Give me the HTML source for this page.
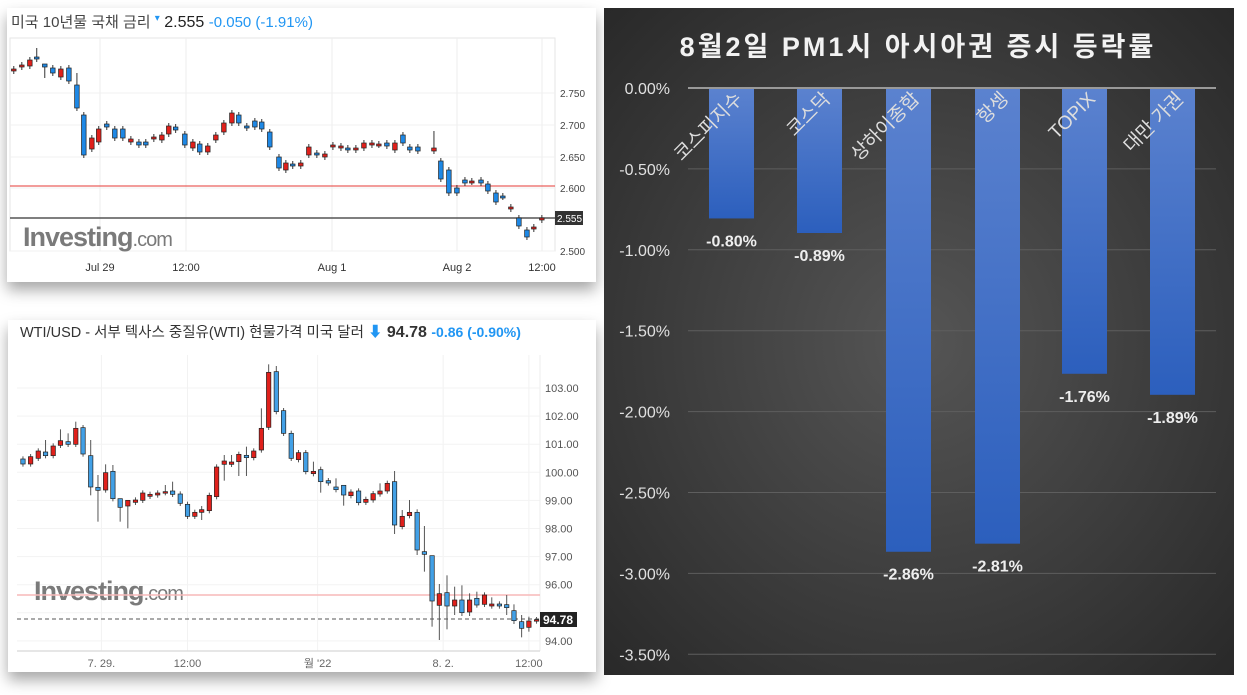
<!DOCTYPE html>
<html><head><meta charset="utf-8">
<style>
body{margin:0;width:1247px;height:695px;background:#fff;position:relative;overflow:hidden;font-family:"Liberation Sans","Noto Sans CJK KR",sans-serif;}
.p{position:absolute;background:#fff;box-shadow:0 8px 14px rgba(0,0,0,.35);}
svg{position:absolute;left:0;top:0;}
</style></head><body>
<div class="p" style="left:7px;top:8px;width:589px;height:274px"></div>
<div class="p" style="left:8px;top:320px;width:588px;height:352px"></div>
<svg id="s" width="1247" height="695" xmlns="http://www.w3.org/2000/svg">
<defs>
<radialGradient id="bg" cx="0.5" cy="0.5" r="0.75">
<stop offset="0" stop-color="#555"/><stop offset="1" stop-color="#262626"/></radialGradient>
<linearGradient id="bar" x1="0" y1="0" x2="0" y2="1"><stop offset="0" stop-color="#5b82cf"/><stop offset="1" stop-color="#2c5fbd"/></linearGradient>
</defs>
<rect x="604" y="8" width="630" height="667" fill="url(#bg)"/>
<text x="918" y="56" text-anchor="middle" fill="#f2f2f2" font-size="27" font-weight="bold" letter-spacing="3">8월2일 PM1시 아시아권 증시 등락률</text>
<g id="rc"></g>
<text x="11" y="27" font-size="15" fill="#444">미국 10년물 국채 금리 <tspan fill="#2196f3" font-size="10" dy="-6">▾</tspan><tspan fill="#222" font-size="16" dy="6"> 2.555 </tspan><tspan fill="#2196f3"> -0.050 (-1.91%)</tspan></text>
<rect x="10" y="38" width="545" height="213" fill="none" stroke="#e6e6e6"/>
<g id="tc"></g>
<text x="20" y="337" font-size="14.5" fill="#333">WTI/USD - 서부 텍사스 중질유(WTI) 현물가격 미국 달러 <tspan fill="#2196f3">⬇</tspan><tspan font-weight="bold" font-size="16"> 94.78 </tspan><tspan fill="#2196f3" font-size="14" font-weight="bold"> -0.86 (-0.90%)</tspan></text>
<g id="bc"></g>
</svg>
<script>
var NS="http://www.w3.org/2000/svg";
function add(g,tag,a,txt){var e=document.createElementNS(NS,tag);for(var k in a)e.setAttribute(k,a[k]);if(txt!=null)e.textContent=txt;g.appendChild(e);return e;}
var rc=document.getElementById('rc');
var labs=["0.00%","-0.50%","-1.00%","-1.50%","-2.00%","-2.50%","-3.00%","-3.50%"];
for(var i=0;i<8;i++){var y=88+i*80.9;
add(rc,'line',{x1:688,x2:1216,y1:y,y2:y,stroke:i==0?'#999':'#5e5e5e','stroke-width':i==0?2:1});
add(rc,'text',{x:670,y:y+6,'text-anchor':'end',fill:'#e0e0e0','font-size':16},labs[i]);}
var bars=[[709,-0.80,"코스피지수","-0.80%"],[797,-0.89,"코스닥","-0.89%"],[886,-2.86,"상하이종합","-2.86%"],[975,-2.81,"항셍","-2.81%"],[1062,-1.76,"TOPIX","-1.76%"],[1150,-1.89,"대만 가권","-1.89%"]];
bars.forEach(function(b){var h=-b[1]*161.8;
add(rc,'rect',{x:b[0],y:89,width:45,height:h,fill:'url(#bar)'});
var cx=b[0]+22.5;
add(rc,'text',{x:cx,y:89+h+28,'text-anchor':'middle',fill:'#eee','font-size':16,'font-weight':'bold'},b[3]);
add(rc,'text',{x:cx+12,y:100,'text-anchor':'end',fill:'#ddd','font-size':19,transform:'rotate(-45 '+(cx+12)+' 100)'},b[2]);
});
var tc=document.getElementById('tc');
[100,186,332,457,542].forEach(function(x){add(tc,'line',{x1:x,x2:x,y1:38,y2:251,stroke:'#eee'});});
[[93,"2.750"],[125,"2.700"],[157,"2.650"],[188,"2.600"],[251,"2.500"]].forEach(function(v){
add(tc,'line',{x1:10,x2:555,y1:v[0],y2:v[0],stroke:'#f0f0f0'});
add(tc,'text',{x:560,y:v[0]+4,'font-size':10,fill:'#444'},v[1]);});
[[100,"Jul 29"],[186,"12:00"],[332,"Aug 1"],[457,"Aug 2"],[542,"12:00"]].forEach(function(v){add(tc,'text',{x:v[0],y:271,'text-anchor':'middle','font-size':11,fill:'#333'},v[1]);});
var w1=add(tc,'text',{x:23,y:246,'font-size':27,'font-weight':'bold',fill:'#7a7a7a','letter-spacing':-1},'Investing');
var t1=document.createElementNS(NS,'tspan');t1.setAttribute('font-weight','normal');t1.setAttribute('font-size','20');t1.textContent='.com';w1.appendChild(t1);
add(tc,'line',{x1:10,x2:555,y1:186,y2:186,stroke:'#e53935'});
add(tc,'line',{x1:10,x2:555,y1:218,y2:218,stroke:'#555','stroke-width':1.5});
add(tc,'rect',{x:555,y:211,width:28,height:14,fill:'#333'});
add(tc,'text',{x:557,y:222,'font-size':10,fill:'#fff'},'2.555');
var T=[[12,69,71,'r'],[19,65,67,'r'],[26,60,66,'r'],[32,57,59,'b',48],[39,64,67,'b',64,78],[46,68,73,'b'],[53,69,77,'r'],[60,68,81,'b'],[67,85,108,'b',73],[73,115,155,'b'],[80,138,149,'r'],[86,129,142,'r'],[93,124,127,'b'],[100,129,138,'b'],[107,129,138,'b'],[114,139,142,'r'],[121,142,145,'b'],[127,142,145,'b'],[134,137,139,'r'],[141,135,140,'r'],[147,126,134,'r'],[153,127,130,'b'],[161,134,145,'b'],[168,142,148,'r'],[174,144,152,'b'],[181,146,152,'r'],[188,135,140,'r'],[195,123,132,'r'],[202,113,123,'r'],[208,115,123,'b'],[215,126,128,'b'],[222,121,127,'b'],[228,122,129,'b'],[235,132,147,'b'],[243,157,168,'b'],[249,163,170,'r'],[255,164,166,'b'],[262,163,166,'r'],[269,147,155,'r'],[276,153,155,'b'],[283,154,157,'r'],[290,145,147,'r'],[297,146,148,'r'],[303,148,150,'b'],[310,148,150,'r'],[317,143,148,'r'],[324,143,145,'r'],[330,144,145,'r'],[337,143,146,'b'],[344,143,150,'r'],[351,135,143,'b'],[357,147,150,'b'],[364,147,151,'b'],[378,148,151,'r',131],[384,161,179,'b'],[391,170,193,'b'],[398,188,193,'b'],[405,180,183,'b'],[411,181,182,'r'],[419,180,183,'b'],[425,184,191,'b'],[432,193,202,'b'],[438,196,197,'b'],[445,207,209,'r'],[452,218,226,'b'],[459,230,237,'b'],[465,227,229,'r'],[472,218,220,'r']];
T.forEach(function(c){var x=c[0]*1.148;var wt=c[4]||c[1]-3,wb=c[5]||c[2]+3;
add(tc,'line',{x1:x,x2:x,y1:wt,y2:wb,stroke:'#333'});
add(tc,'rect',{x:x-2.3,y:c[1],width:4.6,height:Math.max(c[2]-c[1],2),fill:c[3]=='r'?'#e0201b':'#1e88e5',stroke:'#222','stroke-width':0.7});});
var bc=document.getElementById('bc');
function X(z){return z/2.613;} function Y(z){return 310+z/3;}
[265,490,830,1158,1382].forEach(function(z){add(bc,'line',{x1:X(z),x2:X(z),y1:Y(135),y2:651,stroke:'#f2f2f2'});});
var pl=["103.00","102.00","101.00","100.00","99.00","98.00","97.00","96.00","95.00","94.00"];
for(var i=0;i<10;i++){var y=388+i*28.1;add(bc,'line',{x1:17,x2:540,y1:y,y2:y,stroke:'#f3f3f3'});
if(i!=8)add(bc,'text',{x:545,y:y+4,'font-size':11,fill:'#555'},pl[i]);}
add(bc,'line',{x1:540,x2:540,y1:Y(135),y2:651,stroke:'#eee'});
add(bc,'line',{x1:17,x2:540,y1:651,y2:651,stroke:'#ddd','stroke-width':1.5});
[[265,"7. 29."],[490,"12:00"],[830,"월 '22"],[1158,"8. 2."],[1382,"12:00"]].forEach(function(v){add(bc,'text',{x:X(v[0]),y:667,'text-anchor':'middle','font-size':11,fill:'#666'},v[1]);});
var w2=add(bc,'text',{x:34,y:600,'font-size':27,'font-weight':'bold',fill:'#7a7a7a','letter-spacing':-1},'Investing');
var ts=document.createElementNS(NS,'tspan');ts.setAttribute('font-weight','normal');ts.setAttribute('font-size','20');ts.textContent='.com';w2.appendChild(ts);
add(bc,'line',{x1:17,x2:540,y1:595,y2:595,stroke:'#f7b9b9','stroke-width':1.5});
add(bc,'line',{x1:17,x2:540,y1:619,y2:619,stroke:'#555','stroke-dasharray':'4,3'});
add(bc,'rect',{x:540,y:612,width:37,height:15,fill:'#222'});
add(bc,'text',{x:543,y:624,'font-size':12,'font-weight':'bold',fill:'#fff'},'94.78');
var B=[[60,447,462,'b'],[80,440,462,'r'],[100,423,445,'r'],[119,426,437,'b',390],[139,408,437,'r'],[158,392,406,'r',358],[178,395,403,'b',370],[198,355,403,'r',335],[217,353,432,'b'],[237,437,531,'b',390,556],[256,532,541,'b',495,635],[276,488,540,'r',463],[295,484,566,'b',465],[314,566,592,'b',566,635],[334,571,588,'r',571,655],[354,570,577,'r'],[373,549,571,'r'],[392,553,559,'r'],[412,549,555,'r'],[432,545,548,'r',525],[451,543,553,'b',515],[471,552,580,'b'],[490,583,619,'b'],[509,607,619,'r'],[527,599,607,'r',588,630],[547,556,602,'r'],[566,471,560,'r'],[586,453,463,'r',435,512],[605,456,463,'r',435],[624,433,455,'r',425,498],[644,436,443,'b',410,498],[663,423,443,'r'],[683,355,420,'r',295],[702,187,352,'r',163],[722,185,305,'b',168],[741,302,370,'b'],[761,370,445,'b'],[780,428,449,'r'],[799,428,485,'b'],[819,484,491,'r',455],[838,479,515,'b',470,548],[858,512,519,'b'],[878,531,539,'b',505],[898,526,555,'b',526,587],[917,546,557,'r'],[937,543,578,'b'],[956,568,577,'r'],[975,551,570,'r'],[993,543,552,'r',520],[1012,520,543,'r'],[1031,515,645,'b',483,672],[1051,619,650,'r',600],[1070,607,617,'r',570],[1090,607,720,'b',598,735],[1109,725,733,'b',648,785],[1129,737,873,'b',737,950],[1148,851,886,'r',822,990],[1168,848,888,'b',796,958],[1188,870,888,'r',830,915],[1207,870,908,'b',826,918],[1227,870,906,'r',850,918],[1246,865,885,'b',845],[1266,855,883,'r'],[1285,882,888,'r',862],[1305,882,888,'b'],[1324,884,893,'b',855,915],[1343,902,932,'b',883,942],[1363,935,955,'b',915,982],[1382,933,952,'r',920,965],[1402,929,933,'r']];
B.forEach(function(c){var x=X(c[0]);var wt=c[4]||c[1]-8,wb=c[5]||c[2]+8;
add(bc,'line',{x1:x,x2:x,y1:Y(wt),y2:Y(wb),stroke:'#555'});
add(bc,'rect',{x:x-2.2,y:Y(c[1]),width:4.4,height:Math.max((c[2]-c[1])/3,1.5),fill:c[3]=='r'?'#e0201b':'#42a0e6',stroke:'#222','stroke-width':0.7});});
</script>
</body></html>
